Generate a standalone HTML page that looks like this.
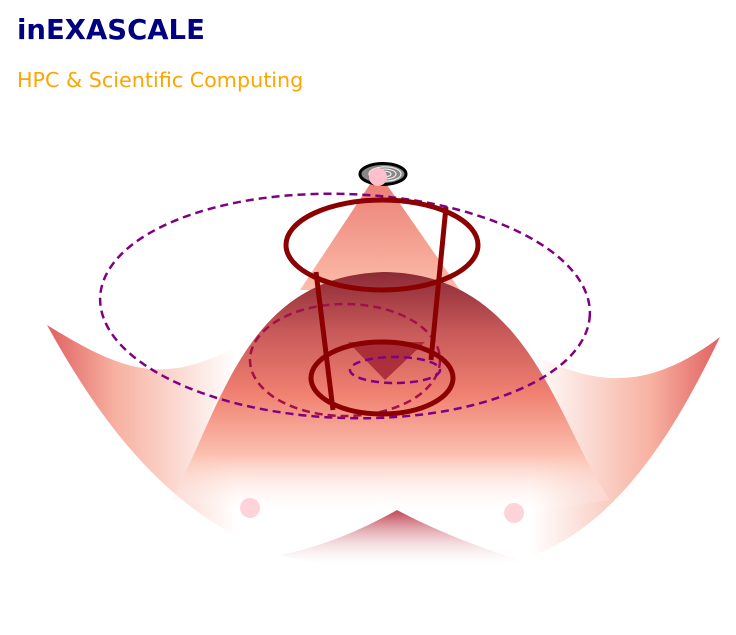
<!DOCTYPE html>
<html><head><meta charset="utf-8"><style>
html,body{margin:0;padding:0;background:#fff;width:736px;height:635px;overflow:hidden}
#t{position:absolute;left:17px;top:14px;font:bold 27.5px "DejaVu Sans","Liberation Sans",sans-serif;color:#000080}
#s{position:absolute;left:17px;top:68px;font:20.7px "DejaVu Sans","Liberation Sans",sans-serif;color:#ffa500}
svg{position:absolute;left:0;top:0}
</style></head><body>
<div id="t">inEXASCALE</div>
<div id="s">HPC &amp; Scientific Computing</div>
<svg width="736" height="635">
<defs>
<linearGradient id="bowl" x1="0" x2="1" y1="0" y2="0">
<stop offset="0" stop-color="#e06060"/><stop offset="0.1" stop-color="#f7b0a0"/><stop offset="0.28" stop-color="#fff"/>
<stop offset="0.72" stop-color="#fff"/><stop offset="0.9" stop-color="#f7b0a0"/><stop offset="1" stop-color="#e06060"/></linearGradient>
<linearGradient id="dome" x1="0" x2="0" y1="0" y2="1">
<stop offset="0" stop-color="#8b2a35"/><stop offset="0.25" stop-color="#c85a5a"/><stop offset="0.5" stop-color="#f08070"/>
<stop offset="0.75" stop-color="#fbc0b0"/><stop offset="1" stop-color="#fff" stop-opacity="0"/></linearGradient>
<linearGradient id="cone" x1="0" x2="0" y1="0" y2="1">
<stop offset="0" stop-color="#e86a60"/><stop offset="1" stop-color="#fbb5a0"/></linearGradient>
<linearGradient id="ridge" x1="0" x2="0" y1="0" y2="1">
<stop offset="0" stop-color="#c04050"/><stop offset="1" stop-color="#fff" stop-opacity="0"/></linearGradient>
</defs>
<path d="M47,325 C120,370 160,385 230,350 L545,360 C600,385 650,390 720,337 C680,420 620,530 520,560 C460,575 340,575 280,555 C180,520 110,440 47,325 Z" fill="url(#bowl)"/>
<path d="M280,555 C330,545 370,525 397,510 C425,525 470,545 520,560 C460,572 340,572 280,555 Z" fill="url(#ridge)"/>
<path d="M378,172 L300,290 L460,290 Z" fill="url(#cone)" opacity="0.9"/>
<path d="M170,500 C220,420 240,275 385,272 C530,275 555,420 610,500 C500,520 280,520 170,500 Z" fill="url(#dome)"/>
<path d="M348,342 L385,380 L425,342 Z" fill="#a02030" opacity="0.8"/>
<circle cx="250" cy="508" r="10" fill="#ffc0cb" opacity="0.7"/>
<circle cx="514" cy="513" r="10" fill="#ffc0cb" opacity="0.7"/>
<g id="g"></g>
</svg>
<script>
const ringCx=[382,382];
const ringCy=[245,378];
const ringRx=[96,71];
const ringRy=[45,36];
const dashCx=[345,345,395];
const dashCy=[306,360,370];
const dashRx=[245,95,45];
const dashRy=[112,56,13];
const dashColor=['#800080','#a0104a','#800080'];
const g=document.getElementById('g');
const NS='http://www.w3.org/2000/svg';
function mk(t,a){const e=document.createElementNS(NS,t);for(const k in a)e.setAttribute(k,a[k]);g.appendChild(e);return e;}
dashCx.forEach((c,i)=>{
 const e=mk('ellipse',{cx:c,cy:dashCy[i],rx:dashRx[i],ry:dashRy[i],fill:'none',stroke:dashColor[i],'stroke-width':2.5,'stroke-dasharray':'8 5',transform:'rotate('+(i==0?2:0)+' '+c+' '+dashCy[i]+')'});
 
 
});
ringCx.forEach((c,i)=>{
 const e=mk('ellipse',{cx:c,cy:ringCy[i],rx:ringRx[i],ry:ringRy[i],fill:'none',stroke:'#8b0000','stroke-width':5});
 
 
});
[[316,272,333,410],[446,207,431,360]].forEach((l,i)=>{
 const e=mk('line',{x1:l[0],y1:l[1],x2:l[2],y2:l[3],stroke:'#8b0000','stroke-width':5});
 
 
});
const topRing=mk('ellipse',{cx:383,cy:174,rx:23,ry:10.5,fill:'#888',stroke:'#000','stroke-width':3});


[16,11,6].forEach((r,i)=>{
 const e=mk('ellipse',{cx:385,cy:174,rx:r,ry:r*0.45,fill:'none',stroke:'#eee','stroke-width':1.2});
 
 
});
const pk=mk('circle',{cx:378,cy:177,r:9,fill:'#ffc0cb'});


</script>
</body></html>
